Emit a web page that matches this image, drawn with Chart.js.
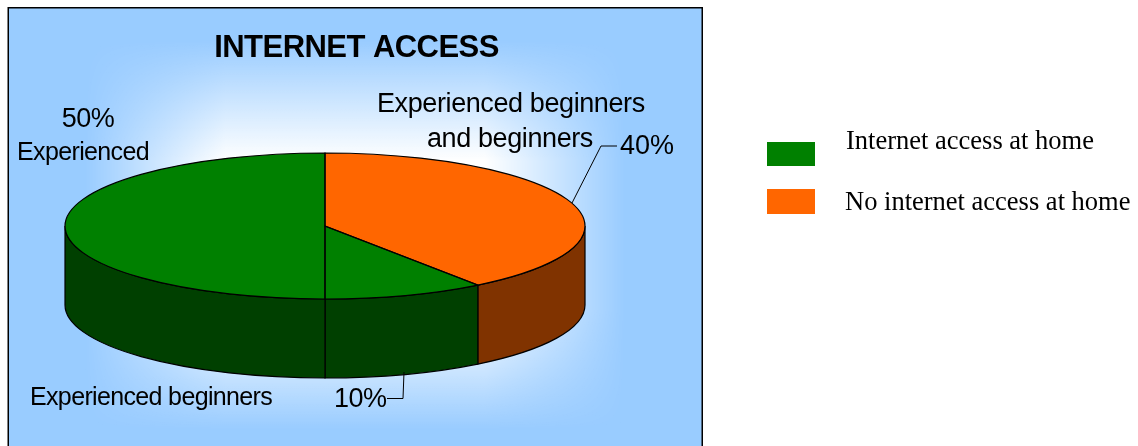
<!DOCTYPE html>
<html>
<head>
<meta charset="utf-8">
<title>Internet access</title>
<script src="https://cdn.jsdelivr.net/npm/chart.js@4"></script>
<style>
    html, body { margin: 0; background: #fff; }
    canvas { display: block; }
</style>
</head>
<body>
<canvas id="accesoChart" width="1138" height="446"></canvas>
<script>
// slices run clockwise from twelve o'clock
var shares = [40, 10, 50];
var topColors = ['#ff6600', '#008000', '#008000'];
var sideColors = ['#803300', '#004000', '#004000'];
var legendLabels = ['Internet access at home', 'No internet access at home'];
var legendColors = ['#008000', '#ff6600'];
var chartTitle = 'INTERNET ACCESS';

// real pie radius, then squashed to the tilted ellipse
var R = 200, CX = 325, CY = 226, RX = 260, RY = 73, DEPTH = 79;
var SANS = '"Liberation Sans", Arial, sans-serif';
var SERIF = '"Liberation Serif", "Times New Roman", serif';

function label(ctx, text, x, y, font, align, spacing) {
    ctx.font = font;
    ctx.textAlign = align || 'left';
    ctx.textBaseline = 'alphabetic';
    ctx.letterSpacing = (spacing || 0) + 'px';
    ctx.fillStyle = '#000';
    ctx.fillText(text, x, y);
    ctx.letterSpacing = '0px';
}

function leader(ctx, pts) {
    ctx.beginPath();
    ctx.moveTo(pts[0][0], pts[0][1]);
    for (var i = 1; i < pts.length; i++) ctx.lineTo(pts[i][0], pts[i][1]);
    ctx.strokeStyle = '#000';
    ctx.lineWidth = 1;
    ctx.stroke();
}

// white glow fading towards the panel edges, roughly rectangular
function glowLayer(w, h) {
    var c = document.createElement('canvas');
    c.width = w;
    c.height = h;
    var g = c.getContext('2d');
    var v = g.createLinearGradient(0, 40, 0, 430);
    v.addColorStop(0, 'rgba(255,255,255,0)');
    v.addColorStop(0.31, 'rgba(255,255,255,1)');
    v.addColorStop(0.69, 'rgba(255,255,255,1)');
    v.addColorStop(1, 'rgba(255,255,255,0)');
    g.fillStyle = v;
    g.fillRect(0, 0, w, h);
    var m = g.createLinearGradient(85, 0, 625, 0);
    m.addColorStop(0, 'rgba(0,0,0,0)');
    m.addColorStop(0.26, 'rgba(0,0,0,1)');
    m.addColorStop(0.74, 'rgba(0,0,0,1)');
    m.addColorStop(1, 'rgba(0,0,0,0)');
    g.globalCompositeOperation = 'destination-in';
    g.fillStyle = m;
    g.fillRect(0, 0, w, h);
    return c;
}

var pie3d = {
    id: 'pie3d',
    beforeDraw: function(chart) {
        var ctx = chart.ctx;
        ctx.save();
        ctx.fillStyle = '#fff';
        ctx.fillRect(0, 0, chart.width, chart.height);
        ctx.fillStyle = '#99ccff';
        ctx.fillRect(8, 8, 694, 438);
        ctx.drawImage(glowLayer(chart.width, chart.height), 0, 0);
        ctx.strokeStyle = '#000';
        ctx.lineWidth = 1.5;
        ctx.strokeRect(8.25, 7.75, 694, 445);
        ctx.restore();
    },
    beforeDatasetsDraw: function(chart) {
        var ctx = chart.ctx;
        var arcs = chart.getDatasetMeta(0).data;
        // side wall, only the part facing the viewer
        ctx.save();
        ctx.lineWidth = 1.2;
        ctx.strokeStyle = '#000';
        arcs.forEach(function(arc, i) {
            var a0 = Math.max(arc.startAngle, 0);
            var a1 = Math.min(arc.endAngle, Math.PI);
            if (a1 <= a0) return;
            ctx.beginPath();
            ctx.ellipse(CX, CY, RX, RY, 0, a0, a1);
            ctx.ellipse(CX, CY + DEPTH, RX, RY, 0, a1, a0, true);
            ctx.closePath();
            ctx.fillStyle = sideColors[i];
            ctx.fill();
            ctx.stroke();
        });
        ctx.restore();
        // the library's own arcs get drawn squashed
        ctx.save();
        ctx.translate(CX, CY);
        ctx.scale(RX / R, RY / R);
        ctx.translate(-arcs[0].x, -arcs[0].y);
    },
    afterDatasetsDraw: function(chart) {
        var ctx = chart.ctx;
        var arcs = chart.getDatasetMeta(0).data;
        ctx.restore();
        ctx.save();
        ctx.lineWidth = 1.2;
        ctx.strokeStyle = '#000';
        arcs.forEach(function(arc) {
            ctx.beginPath();
            ctx.moveTo(CX, CY);
            ctx.ellipse(CX, CY, RX, RY, 0, arc.startAngle, arc.endAngle);
            ctx.closePath();
            ctx.stroke();
        });
        ctx.restore();
    },
    afterDraw: function(chart) {
        var ctx = chart.ctx;
        ctx.save();
        label(ctx, chartTitle, 356.5, 57, 'bold 31px ' + SANS, 'center', -0.55);

        label(ctx, shares[2] + '%', 88, 127, '27px ' + SANS, 'center', -0.5);
        label(ctx, 'Experienced', 83, 160, '25px ' + SANS, 'center', -0.65);

        label(ctx, 'Experienced beginners', 377, 112, '27px ' + SANS, 'left', -0.4);
        label(ctx, 'and beginners', 427, 147, '27px ' + SANS, 'left', -0.4);
        label(ctx, shares[0] + '%', 620, 154, '27px ' + SANS, 'left', 0);
        leader(ctx, [[572, 203], [601, 146], [617, 146]]);

        label(ctx, 'Experienced beginners', 30, 405, '25px ' + SANS, 'left', -0.65);
        label(ctx, shares[1] + '%', 334, 407, '27px ' + SANS, 'left', -0.5);
        leader(ctx, [[404, 372], [403, 398.5], [387, 398.5]]);

        // legend
        ctx.fillStyle = legendColors[0];
        ctx.fillRect(767, 142, 48, 24);
        ctx.fillStyle = legendColors[1];
        ctx.fillRect(767, 189, 48, 25);
        label(ctx, legendLabels[0], 846, 149, '26.5px ' + SERIF);
        label(ctx, legendLabels[1], 845, 210, '26.5px ' + SERIF);
        ctx.restore();
    }
};

var chart = new Chart(document.getElementById('accesoChart').getContext('2d'), {
    type: 'pie',
    data: {
        labels: ['Experienced beginners and beginners', 'Experienced beginners', 'Experienced'],
        datasets: [{
            data: shares,
            backgroundColor: topColors,
            borderWidth: 0
        }]
    },
    options: {
        responsive: false,
        animation: false,
        layout: {
            padding: { left: CX - R, right: 1138 - CX - R, top: CY - R, bottom: 446 - CY - R }
        },
        plugins: {
            legend: { display: false },
            title: { display: false },
            tooltip: { enabled: false }
        }
    },
    plugins: [pie3d]
});
</script>
</body>
</html>
